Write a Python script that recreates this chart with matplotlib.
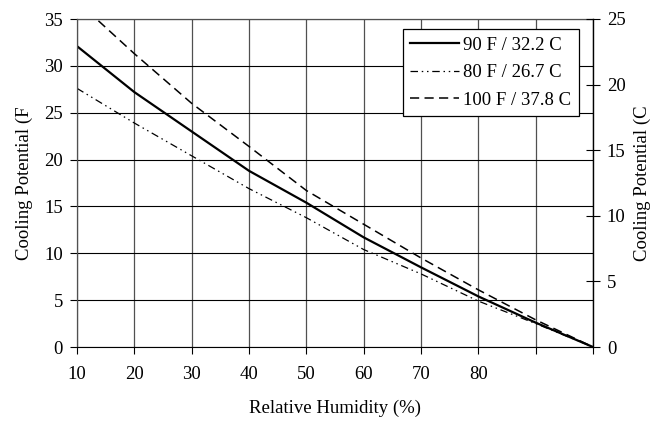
import matplotlib
matplotlib.use("Agg")
import matplotlib.pyplot as plt

plt.rcParams['font.family'] = ['Liberation Serif', 'DejaVu Serif']
plt.rcParams['font.size'] = 13.5

# Data
humidity = [10, 20, 30, 40, 50, 60, 70, 80, 90, 100]
f90 = [32.1, 27.2, 23.0, 18.8, 15.4, 11.7, 8.5, 5.4, 2.6, 0.0]
f80 = [27.6, 23.9, 20.4, 16.9, 13.8, 10.4, 7.8, 4.9, 2.5, 0.0]
f100 = [36.9, 31.3, 26.0, 21.4, 16.7, 13.1, 9.5, 6.1, 2.9, 0.0]
labels = ["90 F / 32.2 C", "80 F / 26.7 C", "100 F / 37.8 C"]
xticks = [10, 20, 30, 40, 50, 60, 70, 80, 90, 100]
xticklabels = ["10", "20", "30", "40", "50", "60", "70", "80", "", ""]
yticks_f = [0, 5, 10, 15, 20, 25, 30, 35]
yticks_c = [0, 5, 10, 15, 20, 25]

fig = plt.figure(figsize=(6.54, 4.21), dpi=100)
ax = fig.add_axes([77/654, 1-347/421, (593-77)/654, (347-19)/421])

ax.plot(humidity, f90, color='black', lw=1.6, label=labels[0])
ax.plot(humidity, f80, color='black', lw=0.9, dashes=(6, 3, 1.2, 3, 1.2, 3), label=labels[1])
ax.plot(humidity, f100, color='black', lw=1.1, dashes=(6, 3.5), label=labels[2])

ax.set_xlim(10, 100)
ax.set_ylim(0, 35)
ax.set_xticks(xticks)
ax.set_xticklabels(xticklabels)
ax.set_yticks(yticks_f)
ax.tick_params(axis='both', direction='out', length=5, width=0.8, color='black')
ax.tick_params(axis='x', pad=9)
ax.tick_params(axis='y', pad=5)

ax.grid(axis='x', color='#505050', lw=0.9)
ax.grid(axis='y', color='black', lw=0.8)
ax.set_axisbelow(True)
for s in ['top', 'left']:
    ax.spines[s].set_color('#505050')
    ax.spines[s].set_linewidth(0.9)
ax.spines['right'].set_visible(False)
ax.spines['bottom'].set_color('black')

ax.set_xlabel("Relative Humidity (%)", labelpad=12)
ax.set_ylabel("Cooling Potential (F", labelpad=8)

ax2 = ax.twinx()
ax2.set_ylim(0, 25)
ax2.set_yticks(yticks_c)
ax2.tick_params(axis='y', direction='inout', length=10, width=0.8, pad=5)
for s in ['top', 'left', 'bottom']:
    ax2.spines[s].set_visible(False)
ax2.spines['right'].set_color('black')
ax2.spines['right'].set_linewidth(1.0)
ax2.set_ylabel("Cooling Potential (C", rotation=90, labelpad=6)

leg = ax.legend(loc='upper right', bbox_to_anchor=(0.973, 0.9695), fancybox=False,
                edgecolor='black', framealpha=1, handlelength=2.6, borderpad=0.4,
                labelspacing=0.55, handletextpad=0.25, borderaxespad=0, handleheight=0.7)
leg.get_frame().set_linewidth(0.9)
leg.set_zorder(5)

fig.savefig("out.png", dpi=100)
